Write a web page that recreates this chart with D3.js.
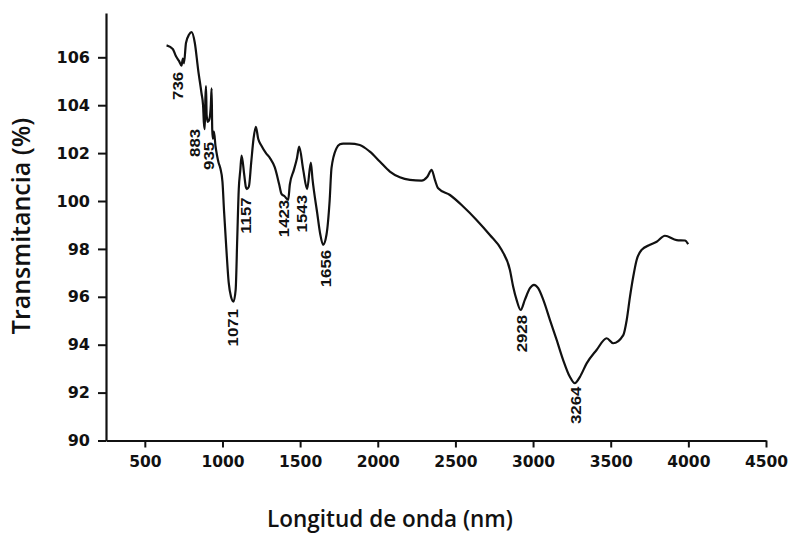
<!DOCTYPE html>
<html><head><meta charset="utf-8">
<script src="https://cdn.jsdelivr.net/npm/d3@7"></script>
<style>body{margin:0;background:#fff} svg{display:block}</style>
</head><body><svg id="c" width="790" height="533"></svg>
<script>
const wavenumber = [640,680,700,720,736,745,752,765,785,801,822,843,865,875,880,886,890,894,898,905,915,925,930,934,938,945,955,965,975,985,1000,1010,1025,1040,1055,1071,1085,1095,1105,1115,1123,1140,1150,1157,1170,1185,1200,1215,1230,1252,1280,1305,1337,1365,1380,1400,1423,1434,1460,1480,1494,1520,1545,1569,1580,1610,1630,1648,1670,1690,1702,1734,1756,1777,1820,1884,1949,2013,2078,2142,2207,2282,2318,2347,2368,2389,2465,2550,2636,2722,2797,2851,2872,2894,2920,2947,2980,3006,3033,3066,3109,3152,3194,3237,3269,3302,3345,3409,3474,3516,3581,3603,3624,3645,3667,3699,3753,3796,3849,3925,3978,3999];
const transmittance = [106.5,106.35,106.05,105.85,105.65,105.95,105.75,106.6,106.95,107.05,106.6,105.5,104.5,104.0,103.3,103.0,104.3,104.8,103.6,103.3,103.4,104.0,104.7,103.0,102.6,102.9,102.3,101.9,101.6,101.4,100.8,99.6,98.0,96.6,96.0,95.8,96.3,98.4,100.5,101.3,101.9,101.1,100.6,100.5,100.6,101.6,102.6,103.1,102.6,102.3,102.0,101.8,101.4,100.7,100.3,100.2,100.05,100.7,101.3,101.8,102.27,101.3,100.5,101.6,100.9,99.5,98.6,98.17,98.6,100.0,101.37,102.2,102.37,102.4,102.4,102.34,102.06,101.65,101.23,100.99,100.88,100.85,101.0,101.3,100.88,100.53,100.25,99.77,99.21,98.58,97.96,97.12,96.42,95.87,95.45,95.87,96.36,96.5,96.36,95.87,95.03,94.2,93.36,92.66,92.39,92.66,93.22,93.78,94.27,94.06,94.4,95.03,96.0,96.84,97.54,97.96,98.17,98.3,98.55,98.37,98.35,98.2];

const peakLabels = ["736","883","935","1071","1157","1423","1543","1656","2928","3264"];
const peakLabelX = [713,822,915,1067,1150,1395,1514,1666,2930,3275];
const peakLabelTop = [105.39,103.01,102.47,95.49,100.15,100.05,100.25,97.96,95.24,92.25];

const xTicks = [500,1000,1500,2000,2500,3000,3500,4000,4500];
const xMinorTicks = [750,1250,1750,2250,2750,3250,3750,4250];
const yTicks = [90,92,94,96,98,100,102,104,106];
const yMinorTicks = [91,93,95,97,99,101,103,105,107];
const xTitle = "Longitud de onda (nm)";
const yTitle = "Transmitancia (%)";

const svg = d3.select("#c");
const x = d3.scaleLinear().domain([250, 4500]).range([106, 766]);
const y = d3.scaleLinear().domain([90, 107.85]).range([440.5, 13]);

const tickFont = "'DejaVu Sans', sans-serif";

// Y axis
const gy = svg.append("g").attr("transform", `translate(${x(250)},0)`);
gy.call(d3.axisLeft(y).tickValues(yMinorTicks).tickSize(4).tickSizeOuter(0).tickFormat(""));
gy.call(d3.axisLeft(y).tickValues(yTicks).tickSize(8).tickSizeOuter(0).tickPadding(8).tickFormat(d3.format("d")));
gy.selectAll("path.domain").attr("stroke","#111").attr("stroke-width",2.2);
gy.selectAll("line").attr("stroke","#111").attr("stroke-width",2);
gy.selectAll("text").attr("font-family",tickFont).attr("font-weight","bold").attr("font-size",16).attr("fill","#111");

// X axis
const gx = svg.append("g").attr("transform", `translate(0,${y(90)})`);
gx.call(d3.axisBottom(x).tickValues(xMinorTicks).tickSize(4).tickSizeOuter(0).tickFormat(""));
gx.call(d3.axisBottom(x).tickValues(xTicks).tickSize(7).tickSizeOuter(0).tickPadding(8).tickFormat(d3.format("d")));
gx.selectAll("path.domain").attr("stroke","#111").attr("stroke-width",2.2);
gx.selectAll("line").attr("stroke","#111").attr("stroke-width",2);
gx.selectAll("text").attr("font-family",tickFont).attr("font-weight","bold").attr("font-size",15.5).attr("fill","#111");

// Spectrum line
const pts = wavenumber.map((w,i)=>[w, transmittance[i]]);
svg.append("path").datum(pts)
  .attr("fill","none").attr("stroke","#111").attr("stroke-width",2.2)
  .attr("stroke-linejoin","round")
  .attr("d", d3.line().curve(d3.curveMonotoneX).x(d=>x(d[0])).y(d=>y(d[1])));

// Peak labels (rotated)
svg.append("g").selectAll("text").data(peakLabels).join("text")
  .attr("transform",(d,i)=>`translate(${x(peakLabelX[i])},${y(peakLabelTop[i])}) rotate(-90) scale(1.2,1)`)
  .attr("text-anchor","end").attr("dy","0.36em")
  .attr("font-family","'Liberation Sans', sans-serif").attr("font-weight","bold")
  .attr("font-size",14).attr("fill","#111")
  .text(d=>d);

// Axis titles
svg.append("text").attr("x",390).attr("y",527).attr("text-anchor","middle")
  .attr("font-family","'Open Sans', sans-serif").attr("font-weight",600).attr("font-size",22.5)
  .attr("fill","#111").text(xTitle);
svg.append("text").attr("transform","translate(30,226) rotate(-90)").attr("text-anchor","middle")
  .attr("font-family","'Open Sans', sans-serif").attr("font-weight",600).attr("font-size",25)
  .attr("fill","#111").text(yTitle);
</script>
</body></html>
